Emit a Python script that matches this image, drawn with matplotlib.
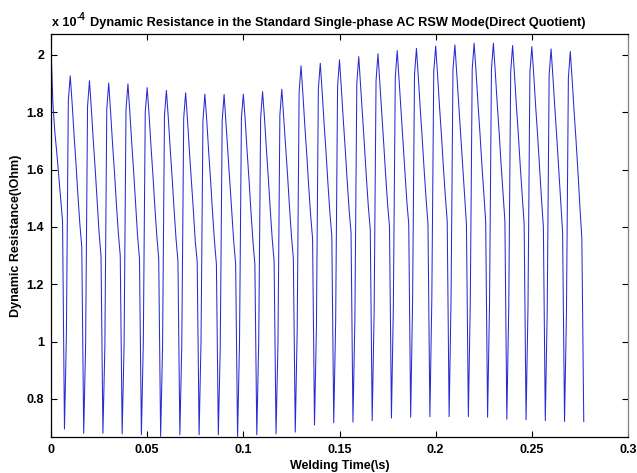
import numpy as np
import matplotlib; matplotlib.use('Agg')
import matplotlib.pyplot as plt
from matplotlib.ticker import FormatStrFormatter

# ── DATA (resistance in units of 1e-4 Ohm, sampled every 1 ms) ──
DT = 0.001

# one entry per half-cycle
peak  = [2.023, 1.927, 1.910, 1.902, 1.899, 1.886, 1.876, 1.868, 1.863, 1.862,
         1.863, 1.872, 1.880, 1.962, 1.971, 1.983, 1.994, 2.004, 2.015, 2.023,
         2.031, 2.035, 2.041, 2.041, 2.033, 2.029, 2.021, 2.012]
fall1 = [1.83, 1.83, 1.81, 1.80, 1.80, 1.79, 1.78, 1.77, 1.77, 1.76,
         1.77, 1.78, 1.78, 1.86, 1.87, 1.88, 1.89, 1.90, 1.91, 1.92,
         1.93, 1.93, 1.94, 1.94, 1.93, 1.93, 1.92, 1.91]
fall2 = [1.73, 1.72, 1.70, 1.69, 1.69, 1.68, 1.67, 1.66, 1.66, 1.66,
         1.66, 1.67, 1.68, 1.75, 1.76, 1.77, 1.78, 1.79, 1.80, 1.81,
         1.82, 1.82, 1.83, 1.83, 1.82, 1.82, 1.81, 1.80]
fall3 = [1.66, 1.62, 1.60, 1.59, 1.59, 1.58, 1.57, 1.56, 1.56, 1.56,
         1.56, 1.57, 1.58, 1.65, 1.66, 1.67, 1.68, 1.69, 1.70, 1.71,
         1.72, 1.72, 1.73, 1.73, 1.72, 1.72, 1.71, 1.70]
fall4 = [1.58, 1.51, 1.49, 1.48, 1.48, 1.47, 1.46, 1.46, 1.45, 1.45,
         1.45, 1.46, 1.47, 1.54, 1.55, 1.56, 1.57, 1.58, 1.59, 1.60,
         1.61, 1.61, 1.62, 1.62, 1.61, 1.61, 1.60, 1.59]
fall5 = [1.50, 1.41, 1.38, 1.38, 1.37, 1.37, 1.36, 1.35, 1.35, 1.35,
         1.35, 1.36, 1.37, 1.44, 1.45, 1.46, 1.47, 1.48, 1.49, 1.50,
         1.51, 1.51, 1.52, 1.52, 1.51, 1.50, 1.49, 1.47]
knee  = [1.42, 1.33, 1.30, 1.30, 1.29, 1.29, 1.28, 1.28, 1.27, 1.27,
         1.27, 1.28, 1.29, 1.36, 1.37, 1.38, 1.39, 1.40, 1.41, 1.41,
         1.42, 1.41, 1.42, 1.42, 1.41, 1.40, 1.38, 1.36]
# bottom of each drop (after every knee)
trough = [0.695, 0.680, 0.680, 0.678, 0.675, 0.669, 0.675, 0.675, 0.675, 0.669,
          0.675, 0.678, 0.684, 0.709, 0.717, 0.719, 0.724, 0.733, 0.736, 0.738,
          0.738, 0.738, 0.736, 0.729, 0.727, 0.724, 0.721, 0.721]
# two samples on the way back up (before peaks 1..27)
rise1 = [1.02, 0.99, 0.98, 0.99, 1.00, 0.98, 0.99, 1.00, 0.98, 0.99,
         1.00, 0.99, 1.04, 1.05, 1.07, 1.08, 1.10, 1.12, 1.14, 1.15,
         1.15, 1.14, 1.13, 1.12, 1.12, 1.11, 1.10]
rise2 = [1.84, 1.82, 1.81, 1.81, 1.80, 1.79, 1.78, 1.77, 1.77, 1.78,
         1.78, 1.79, 1.87, 1.88, 1.89, 1.90, 1.91, 1.92, 1.93, 1.94,
         1.95, 1.95, 1.95, 1.94, 1.94, 1.93, 1.92]

TITLE  = 'Dynamic Resistance in the Standard Single-phase AC RSW Mode(Direct Quotient)'
XLABEL = 'Welding Time(\\s)'
YLABEL = 'Dynamic Resistance(\\Ohm)'

# ── BUILD SERIES ─────────────────────────────────────────
res = [peak[0], fall1[0], fall2[0], fall3[0], fall4[0], fall5[0], knee[0]]
for c in range(1, len(peak)):
    res += [trough[c-1], rise1[c-1], rise2[c-1], peak[c],
            fall1[c], fall2[c], fall3[c], fall4[c], fall5[c], knee[c]]
res.append(trough[-1])
res = np.array(res)
t = np.arange(len(res)) * DT

# ── PLOT ─────────────────────────────────────────────────
plt.rcParams['font.family'] = 'Liberation Sans'
plt.rcParams['font.weight'] = 'bold'
plt.rcParams['axes.labelweight'] = 'bold'

fig = plt.figure(figsize=(6.37, 4.73), dpi=100, facecolor='white')
ax = fig.add_axes([51/637, 1-437/473, 577/637, 403/473])
ax.plot(t, res, color='#2a2ad2', lw=0.75)

ax.set_xlim(0, 0.3)
ax.set_ylim(0.667, 2.073)
ax.set_xticks([0, 0.05, 0.1, 0.15, 0.2, 0.25, 0.3])
ax.set_yticks([0.8, 1.0, 1.2, 1.4, 1.6, 1.8, 2.0])
ax.xaxis.set_major_formatter(FormatStrFormatter('%g'))
ax.yaxis.set_major_formatter(FormatStrFormatter('%g'))
ax.tick_params(direction='in', top=True, right=True, length=4, width=0.8,
               labelsize=9, pad=5)
ax.spines['right'].set_color('#808080')
for s in ax.spines.values():
    s.set_linewidth(0.9)

ax.set_xlabel(XLABEL, fontsize=9, labelpad=3)
ax.set_ylabel(YLABEL, fontsize=9, labelpad=3)

fig.text(52/637, 1-26/473, 'x 10', fontsize=9, ha='left', va='baseline')
fig.text(77/637, 1-20/473, '-4', fontsize=7, ha='left', va='baseline')
fig.text(90/637, 1-26/473, TITLE, fontsize=9.2, ha='left', va='baseline')

plt.savefig('out.png', dpi=100, facecolor='white')
plt.close()
